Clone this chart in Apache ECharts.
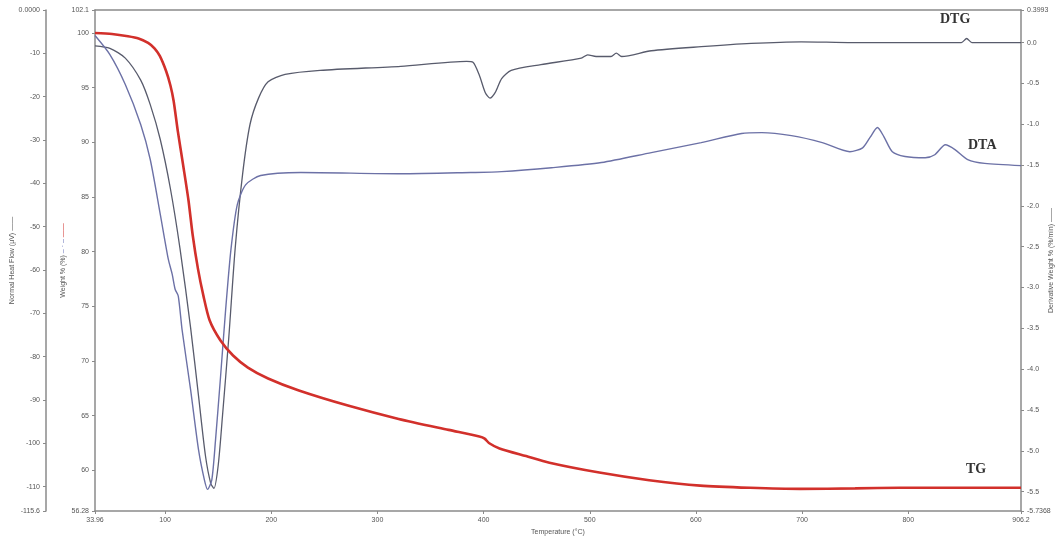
<!DOCTYPE html>
<html>
<head>
<meta charset="utf-8">
<script src="https://cdn.jsdelivr.net/npm/echarts@6/dist/echarts.min.js"></script>
<style>html,body{margin:0;padding:0;background:#fff;}#c{width:1063px;height:543px;}</style>
</head>
<body>
<div id="c"></div>
<script>
// ---- data ----
const xTicks = [33.96, 100, 200, 300, 400, 500, 600, 700, 800, 906.2];
const heatTicks = [0, -10, -20, -30, -40, -50, -60, -70, -80, -90, -100, -110, -115.6];
const weightTicks = [102.1, 100, 95, 90, 85, 80, 75, 70, 65, 60, 56.28];
const derivTicks = [0.3993, 0, -0.5, -1, -1.5, -2, -2.5, -3, -3.5, -4, -4.5, -5, -5.5, -5.7368];

// TG: temperature (°C) and weight %
const tgT = [33.96, 50, 65, 75, 84, 90, 95, 101, 105, 108, 112, 117, 122, 126, 131, 136, 142, 152, 164, 178, 197, 226, 273, 320, 367, 396, 401, 405, 415, 440, 462, 509, 556, 604, 651, 698, 750, 792, 850, 906.2];
const tgW = [100.0, 99.9, 99.7, 99.5, 99.1, 98.6, 97.9, 96.5, 95.2, 93.8, 91.0, 87.9, 84.7, 81.5, 78.4, 76.0, 73.7, 71.9, 70.5, 69.4, 68.4, 67.3, 65.9, 64.7, 63.7, 63.1, 62.9, 62.5, 62.0, 61.3, 60.7, 59.8, 59.1, 58.6, 58.4, 58.3, 58.35, 58.4, 58.4, 58.4];

// DTA: temperature (°C) and heat flow (µV)
const dtaT = [33.96, 48, 62.5, 77, 86, 95.5, 103, 106.7, 109.5, 112.4, 116, 124, 131.5, 137, 140, 144, 147.5, 152, 157, 162, 168, 176, 190, 228, 322, 388, 417, 464, 511, 558, 605, 643, 662, 690, 719, 745, 757, 764, 771, 777, 785, 797, 816, 825, 835, 844, 856, 872, 906.2];
const dtaH = [-5.9, -10.3, -17.2, -26.4, -34.5, -47.2, -57.5, -61.0, -64.5, -66.0, -73.8, -87.6, -101.5, -108.4, -110.6, -108.4, -99.2, -85.3, -69.2, -55.3, -44.9, -40.3, -38.2, -37.5, -37.8, -37.5, -37.3, -36.4, -35.2, -32.9, -30.6, -28.5, -28.3, -29.0, -30.6, -32.7, -31.8, -29.4, -27.1, -29.2, -32.7, -33.8, -34.1, -33.4, -31.1, -32.2, -34.5, -35.4, -35.9];

// DTG: temperature (°C) and derivative weight (%/min)
const dtgT = [33.96, 48, 62.5, 77, 86, 95.5, 105, 114, 124, 131.5, 138, 143, 146, 150, 154, 160, 166, 173, 180, 188, 197, 213, 246, 322, 384, 390, 396, 401.5, 406, 411, 417, 426, 454, 492, 498, 506, 520, 525, 530, 558, 605, 652, 699, 747, 850, 855, 860, 906.2];
const dtgD = [-0.04, -0.07, -0.19, -0.46, -0.76, -1.19, -1.79, -2.52, -3.49, -4.33, -5.06, -5.40, -5.46, -5.18, -4.58, -3.61, -2.52, -1.61, -1.00, -0.68, -0.48, -0.39, -0.34, -0.29, -0.23, -0.24, -0.40, -0.61, -0.68, -0.61, -0.44, -0.34, -0.27, -0.19, -0.15, -0.17, -0.17, -0.13, -0.17, -0.10, -0.05, -0.01, 0.01, 0.0, 0.0, 0.05, 0.0, 0.0];

const seriesLabels = ['DTG', 'DTA', 'TG'];

// ---- chart ----
const zip = (a, b) => a.map((v, i) => [v, b[i]]);
const chart = echarts.init(document.getElementById('c'), null, {renderer: 'canvas'});
const lblStyle = {fontSize: 7, color: '#555', fontFamily: 'Liberation Sans'};
const axisLineStyle = {color: '#8a8a8a', width: 1.5};
const fmt = v => {
  if (Math.abs(v - 0.3993) < 1e-6) return '0.3993';
  if (Math.abs(v + 5.7368) < 1e-6) return '-5.7368';
  return v.toFixed(1);
};

chart.setOption({
  animation: false,
  backgroundColor: '#fff',
  grid: {left: 95, right: 42, top: 10, bottom: 32, containLabel: false, outerBoundsMode: 'none'},
  xAxis: [{
    type: 'value', min: 33.96, max: 906.2,
    name: 'Temperature (°C)', nameLocation: 'middle', nameGap: 18, nameMoveOverlap: false,
    nameTextStyle: {fontSize: 7, color: '#555'},
    axisLine: {show: true, lineStyle: axisLineStyle, onZero: false},
    axisTick: {show: true, length: 3, lineStyle: {color: '#8a8a8a'}, customValues: xTicks},
    axisLabel: Object.assign({customValues: xTicks, margin: 6,
      formatter: v => (v === 33.96 ? '33.96' : (v === 906.2 ? '906.2' : String(v)))}, lblStyle),
    splitLine: {show: false}
  }, {
    type: 'value', position: 'top', min: 33.96, max: 906.2,
    axisLine: {show: true, lineStyle: axisLineStyle, onZero: false},
    axisTick: {show: false}, axisLabel: {show: false}, splitLine: {show: false}
  }],
  yAxis: [{
    type: 'value', min: -115.6, max: 0, position: 'left', offset: 49,
    name: 'Normal Heat Flow (µV) ——', nameLocation: 'middle', nameGap: 30, nameRotate: 90, nameMoveOverlap: false,
    nameTextStyle: {fontSize: 7, color: '#555'},
    axisLine: {show: true, lineStyle: axisLineStyle, onZero: false},
    axisTick: {show: true, inside: false, length: 3, lineStyle: {color: '#8a8a8a'}, customValues: heatTicks},
    axisLabel: Object.assign({customValues: heatTicks, margin: 6,
      formatter: v => (v === 0 ? '0.0000' : (v === -115.6 ? '-115.6' : String(v)))}, lblStyle),
    splitLine: {show: false}
  }, {
    type: 'value', min: 56.28, max: 102.1, position: 'left', offset: 0,
    name: '{t|Weight % (%)} {b|– · –} {r|——}', nameLocation: 'middle', nameGap: 28, nameRotate: 90, nameMoveOverlap: false,
    nameTextStyle: {fontSize: 7, color: '#555', rich: {
      t: {fontSize: 7, color: '#555'}, b: {fontSize: 7, color: '#6a73b8'}, r: {fontSize: 7, color: '#d0312d'}}},
    axisLine: {show: true, lineStyle: axisLineStyle, onZero: false},
    axisTick: {show: true, length: 3, lineStyle: {color: '#8a8a8a'}, customValues: weightTicks},
    axisLabel: Object.assign({customValues: weightTicks, margin: 6,
      formatter: v => (v === 102.1 ? '102.1' : (v === 56.28 ? '56.28' : String(v)))}, lblStyle),
    splitLine: {show: false}
  }, {
    type: 'value', min: -5.7368, max: 0.3993, position: 'right', offset: 0,
    name: 'Derivative Weight % (%/min) ——', nameLocation: 'middle', nameGap: 27, nameRotate: 90, nameMoveOverlap: false,
    nameTextStyle: {fontSize: 7, color: '#555'},
    axisLine: {show: true, lineStyle: axisLineStyle, onZero: false},
    axisTick: {show: true, length: 3, lineStyle: {color: '#8a8a8a'}, customValues: derivTicks},
    axisLabel: Object.assign({customValues: derivTicks, margin: 6, formatter: fmt}, lblStyle),
    splitLine: {show: false}
  }],
  series: [{
    name: seriesLabels[0], type: 'line', yAxisIndex: 2, xAxisIndex: 0,
    data: zip(dtgT, dtgD), showSymbol: false, smooth: 0.25,
    lineStyle: {color: '#585b6c', width: 1.3}, z: 3
  }, {
    name: seriesLabels[1], type: 'line', yAxisIndex: 0, xAxisIndex: 0,
    data: zip(dtaT, dtaH), showSymbol: false, smooth: 0.25,
    lineStyle: {color: '#6c71a6', width: 1.4}, z: 3
  }, {
    name: seriesLabels[2], type: 'line', yAxisIndex: 1, xAxisIndex: 0,
    data: zip(tgT, tgW), showSymbol: false, smooth: 0.25,
    lineStyle: {color: '#d2302b', width: 2.6}, z: 4
  }],
  graphic: [
    {type: 'text', left: 940, top: 12, style: {text: seriesLabels[0], font: 'bold 14px "Liberation Serif"', fill: '#333'}},
    {type: 'text', left: 968, top: 138, style: {text: seriesLabels[1], font: 'bold 14px "Liberation Serif"', fill: '#333'}},
    {type: 'text', left: 966, top: 462, style: {text: seriesLabels[2], font: 'bold 14px "Liberation Serif"', fill: '#333'}}
  ]
});
</script>
</body>
</html>
